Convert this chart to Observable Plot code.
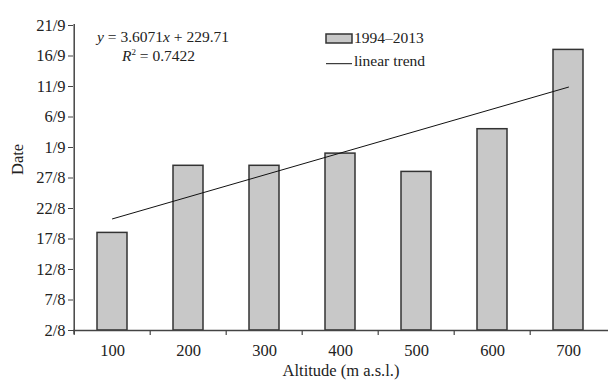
<!DOCTYPE html>
<html>
<head>
<meta charset="utf-8">
<script src="https://cdn.jsdelivr.net/npm/d3@7"></script>
<script src="https://cdn.jsdelivr.net/npm/@observablehq/plot@0.6"></script>
<style>
  html, body { margin: 0; padding: 0; background: #fff; }
  #chart { width: 608px; height: 380px; }
</style>
</head>
<body>
<div id="chart"></div>
<script>
// Altitude categories (m a.s.l.)
const altitudes = ["100", "200", "300", "400", "500", "600", "700"];
// Mean date as day of year (214 = 2/8)
const meanDay = [230, 241, 241, 243, 240, 247, 260];
// Linear trend end points (day of year) at first and last altitude
const trendAltitudes = ["100", "700"];
const trendDay = [232.3, 253.9];
// Y axis tick values and labels
const yTicks = [214, 219, 224, 229, 234, 239, 244, 249, 254, 259, 264];
const yLabels = ["2/8", "7/8", "12/8", "17/8", "22/8", "27/8", "1/9", "6/9", "11/9", "16/9", "21/9"];

const bars = altitudes.map((a, i) => ({alt: a, day: meanDay[i]}));
const trend = trendAltitudes.map((a, i) => ({alt: a, day: trendDay[i]}));

const FONT = "Liberation Serif, Times New Roman, serif";
const INK = "#222";
const halfStep = -38.3;

const plot = Plot.plot({
  width: 608,
  height: 380,
  marginLeft: 73,
  marginRight: 0,
  marginTop: 25,
  marginBottom: 50,
  style: {fontFamily: FONT, fontSize: "16px", color: INK, background: "#fff", overflow: "visible"},
  x: {domain: altitudes, paddingInner: 0.6, paddingOuter: 0.3, axis: null},
  y: {domain: [214, 264], axis: null},
  marks: [
    Plot.barY(bars, {x: "alt", y1: 214, y2: "day", fill: "#c8c8c8", stroke: "#333", strokeWidth: 1.5}),
    Plot.lineY(trend, {x: "alt", y: "day", stroke: "#111", strokeWidth: 1}),
    // x axis line
    Plot.ruleY([214], {stroke: "#444", strokeWidth: 1.5}),
    // y axis line (left edge of first band)
    Plot.ruleX([altitudes[0]], {dx: halfStep, y1: 264, y2: 214, insetBottom: -4, insetTop: -1, stroke: "#444", strokeWidth: 1.5}),
    // x tick marks at band boundaries
    Plot.ruleX(altitudes, {dx: halfStep, y1: 214, y2: 214, insetBottom: -5, stroke: "#444", strokeWidth: 1.2}),
    Plot.axisY({ticks: yTicks, tickFormat: d => yLabels[yTicks.indexOf(d)], tickSize: 5, tickPadding: 3, label: null, fontSize: 16.5, stroke: "#444"}),
    Plot.axisX({tickSize: 0, tickPadding: 14, label: null, fontSize: 16.5}),
    Plot.text(["Altitude (m a.s.l.)"], {frameAnchor: "bottom", dy: 40, lineAnchor: "middle", fontSize: 16.5, fill: INK}),
    Plot.text(["Date"], {frameAnchor: "left", dx: -56, dy: -3, rotate: -90, fontSize: 16.5, fill: INK})
  ]
});

document.getElementById("chart").appendChild(plot);

// Annotations: regression equation and legend
const svg = d3.select(plot);
const g = svg.append("g").attr("font-family", FONT).attr("font-size", 15.5)
  .attr("fill", INK).attr("text-anchor", "start").style("text-anchor", "start");
const eq = g.append("text").attr("x", 97).attr("y", 41.5);
eq.append("tspan").attr("font-style", "italic").text("y");
eq.append("tspan").text(" = 3.6071");
eq.append("tspan").attr("font-style", "italic").text("x");
eq.append("tspan").text(" + 229.71");
const r2 = g.append("text").attr("x", 122).attr("y", 61);
r2.append("tspan").attr("font-style", "italic").text("R");
r2.append("tspan").attr("font-size", 9).attr("dy", -6).text("2");
r2.append("tspan").attr("dy", 6).text(" = 0.7422");

g.append("rect").attr("x", 326).attr("y", 34).attr("width", 26).attr("height", 9)
  .attr("fill", "#c8c8c8").attr("stroke", "#333").attr("stroke-width", 1.5);
g.append("text").attr("x", 354).attr("y", 43.3).text("1994\u20132013");
g.append("line").attr("x1", 326).attr("x2", 352).attr("y1", 63.7).attr("y2", 63.7)
  .attr("stroke", "#111").attr("stroke-width", 1);
g.append("text").attr("x", 354).attr("y", 65.7).text("linear trend");
</script>
</body>
</html>
